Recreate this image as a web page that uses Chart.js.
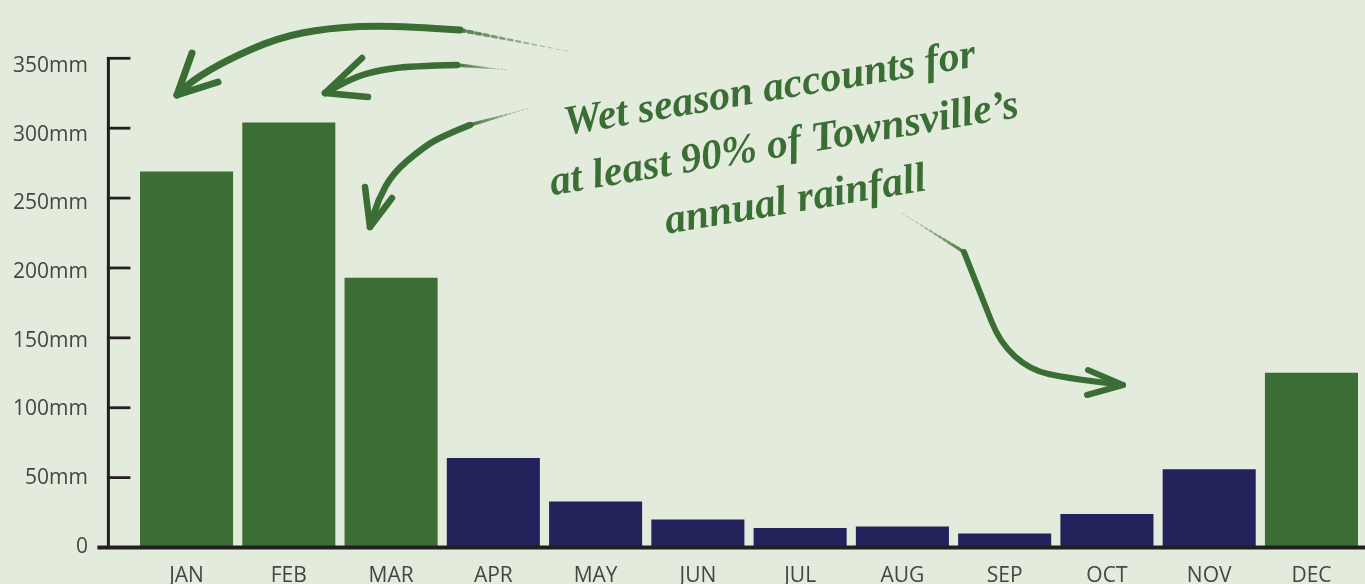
<!DOCTYPE html>
<html>
<head>
<meta charset="utf-8">
<script src="https://cdn.jsdelivr.net/npm/chart.js@4.4.1/dist/chart.umd.min.js"></script>
<style>
  html, body { margin: 0; padding: 0; background: #e3ebdc; overflow: hidden; }
  canvas { display: block; }
</style>
</head>
<body>
<canvas id="c" width="1365" height="584" style="width:1365px;height:584px"></canvas>
<script>
// ---- data ----
const months = ['JAN','FEB','MAR','APR','MAY','JUN','JUL','AUG','SEP','OCT','NOV','DEC'];
const rainfall = [269, 304, 193, 64, 33, 20, 14, 15, 10, 24, 56, 125];
const wetSeason = [true, true, true, false, false, false, false, false, false, false, false, true];
const yTickValues = [0, 50, 100, 150, 200, 250, 300, 350];
const yTickLabels = ['0', '50mm', '100mm', '150mm', '200mm', '250mm', '300mm', '350mm'];
const noteLines = ['Wet season accounts for', 'at least 90% of Townsville\u2019s', 'annual rainfall'];

const GREEN = '#3b6e35';
const NAVY = '#23225a';
const AXIS = '#231f20';
const TEXT = '#454545';
const BG = '#e3ebdc';

const bgPlugin = {
  id: 'bg',
  beforeDraw(chart) {
    const ctx = chart.ctx;
    ctx.save();
    ctx.fillStyle = BG;
    ctx.fillRect(0, 0, chart.width, chart.height);
    ctx.restore();
  }
};

const axesPlugin = {
  id: 'axesDraw',
  afterDatasetsDraw(chart) {
    const ctx = chart.ctx;
    const y = chart.scales.y;
    const area = chart.chartArea;
    const axisX = area.left - 27;
    ctx.save();
    ctx.strokeStyle = AXIS;
    ctx.lineCap = 'butt';
    ctx.lineWidth = 3;
    ctx.beginPath();
    ctx.moveTo(axisX, y.getPixelForValue(yTickValues[yTickValues.length - 1]) - 1.4);
    ctx.lineTo(axisX, y.getPixelForValue(0));
    ctx.stroke();
    ctx.lineWidth = 2.8;
    yTickValues.forEach(v => {
      if (v === 0) return;
      const py = y.getPixelForValue(v);
      ctx.beginPath();
      ctx.moveTo(axisX - 1.5, py);
      ctx.lineTo(axisX + 22, py);
      ctx.stroke();
    });
    ctx.lineWidth = 4;
    const py0 = y.getPixelForValue(0);
    ctx.beginPath();
    ctx.moveTo(axisX - 11, py0);
    ctx.lineTo(chart.width, py0);
    ctx.stroke();
    ctx.restore();
  }
};

function smooth(ctx, pts) {
  ctx.moveTo(pts[0][0], pts[0][1]);
  for (let i = 1; i < pts.length - 1; i++) {
    const mx = (pts[i][0] + pts[i + 1][0]) / 2;
    const my = (pts[i][1] + pts[i + 1][1]) / 2;
    ctx.quadraticCurveTo(pts[i][0], pts[i][1], mx, my);
  }
  const l = pts[pts.length - 1];
  ctx.lineTo(l[0], l[1]);
}

function arrow(ctx, solid, barbs, tail, w) {
  ctx.save();
  ctx.strokeStyle = GREEN;
  ctx.lineCap = 'round';
  ctx.lineJoin = 'round';
  ctx.lineWidth = w;
  ctx.beginPath();
  smooth(ctx, solid);
  ctx.stroke();
  const tip = solid[solid.length - 1];
  ctx.beginPath();
  barbs.forEach(b => { ctx.moveTo(b[0], b[1]); ctx.lineTo(tip[0], tip[1]); });
  ctx.stroke();
  const n = 14;
  for (let i = 0; i < n; i++) {
    const t0 = i / n, t1 = (i + 0.55) / n;
    const p0 = [tail[0][0] + (tail[1][0] - tail[0][0]) * t0, tail[0][1] + (tail[1][1] - tail[0][1]) * t0];
    const p1 = [tail[0][0] + (tail[1][0] - tail[0][0]) * t1, tail[0][1] + (tail[1][1] - tail[0][1]) * t1];
    ctx.globalAlpha = 0.85 * (1 - t0 * 0.8);
    ctx.lineWidth = Math.max(1, w * (1 - t0) * 0.6);
    ctx.beginPath();
    ctx.moveTo(p0[0], p0[1]);
    ctx.lineTo(p1[0], p1[1]);
    ctx.stroke();
  }
  ctx.restore();
}

const notePlugin = {
  id: 'note',
  afterDraw(chart) {
    const ctx = chart.ctx;
    arrow(ctx, [[460,30],[393,25],[327,28],[277,38],[227,60],[193,80],[177,95]],
          [[192,53],[218,82]], [[460,30],[572,52]], 7);
    arrow(ctx, [[457,65],[410,66],[375,71],[353,78],[325,93]],
          [[362,58],[368,97]], [[457,65],[508,70]], 6.5);
    arrow(ctx, [[470,125],[440,137],[420,150],[393,173],[378,200],[370,227]],
          [[365,187],[392,198]], [[470,125],[530,108]], 6.5);
    arrow(ctx, [[964,252],[983,300],[1000,343],[1030,370],[1067,378],[1123,385]],
          [[1088,370],[1087,395]], [[964,252],[900,212]], 6);
    ctx.save();
    ctx.translate(786, 156);
    ctx.rotate(-9.5 * Math.PI / 180);
    ctx.fillStyle = GREEN;
    ctx.textAlign = 'center';
    ctx.textBaseline = 'alphabetic';
    let size = 40;
    ctx.font = 'italic bold ' + size + 'px "Liberation Serif"';
    const w = ctx.measureText(noteLines[1]).width;
    size = size * 475 / w;
    ctx.font = 'italic bold ' + size.toFixed(1) + 'px "Liberation Serif"';
    ctx.fillText(noteLines[0], -5, -57);
    ctx.fillText(noteLines[1], 0, 0);
    ctx.fillText(noteLines[2], 2, 57);
    ctx.restore();
  }
};

new Chart(document.getElementById('c'), {
  type: 'bar',
  data: {
    labels: months,
    datasets: [{
      data: rainfall,
      backgroundColor: wetSeason.map(w => w ? GREEN : NAVY),
      borderWidth: 0,
      categoryPercentage: 1,
      barPercentage: 0.91,
      yAxisID: 'y'
    }]
  },
  options: {
    responsive: false,
    animation: false,
    devicePixelRatio: 1,
    layout: { padding: { top: 58.3, right: 2.4, left: 0, bottom: 0 } },
    plugins: { legend: { display: false }, tooltip: { enabled: false } },
    scales: {
      x: {
        grid: { display: false },
        border: { display: false },
        ticks: { color: TEXT, font: { family: '"Open Sans"', size: 21 }, padding: 8, maxRotation: 0 },
        afterFit(s) { s.height = 36.5; }
      },
      y: {
        position: 'left',
        weight: 0,
        min: 0,
        max: 350,
        grid: { display: false },
        border: { display: false },
        ticks: { display: false },
        afterFit(s) { s.width = 39.4; }
      },
      yl: {
        position: 'left',
        weight: 1,
        min: -0.5,
        max: 355.6,
        grid: { display: false },
        border: { display: false },
        afterBuildTicks(s) { s.ticks = yTickValues.map(v => ({ value: v })); },
        ticks: {
          color: TEXT,
          font: { family: '"Open Sans"', size: 21 },
          padding: 0,
          callback(v) { const i = yTickValues.indexOf(v); return i >= 0 ? yTickLabels[i] : ''; }
        },
        afterFit(s) { s.width = 96; }
      }
    }
  },
  plugins: [bgPlugin, axesPlugin, notePlugin]
});
</script>
</body>
</html>
